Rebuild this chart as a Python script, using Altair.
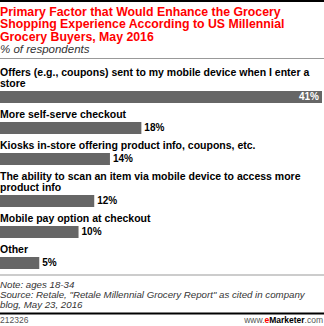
import altair as alt
import pandas as pd

# ---------------- data ----------------
categories = [
    "Offers (e.g., coupons) sent to my mobile device when I enter a\nstore",
    "More self-serve checkout",
    "Kiosks in-store offering product info, coupons, etc.",
    "The ability to scan an item via mobile device to access more\nproduct info",
    "Mobile pay option at checkout",
    "Other",
]
values = [41, 18, 14, 12, 10, 5]
value_labels = ["41%", "18%", "14%", "12%", "10%", "5%"]

title_lines = [
    "Primary Factor that Would Enhance the Grocery",
    "Shopping Experience According to US Millennial",
    "Grocery Buyers, May 2016",
]
subtitle_text = "% of respondents"
note_lines = [
    "Note: ages 18-34",
    'Source: Retale, "Retale Millennial Grocery Report" as cited in company',
    "blog, May 23, 2016",
]
chart_id = "212326"
brand_parts = ["www.", "e", "Marketer", ".com"]

# ---------------- layout / style ----------------
FONT = "Liberation Sans"
W, H = 322, 208
BAR = "#666666"
RED = "#ff0000"

df = pd.DataFrame({
    "idx": list(range(len(categories))),
    "label": categories,
    "value": values,
    "vlabel": value_labels,
})
one = pd.DataFrame({"k": [0]})

yscale = alt.Scale(domain=[0, H], reverse=True, nice=False, zero=False)
xscale = alt.Scale(domain=[0, max(values)], nice=False, zero=True)

base = (
    alt.Chart(df)
    .transform_calculate(lines="length(split(datum.label, '\\n'))")
    .transform_calculate(rowh="20 + 11 * datum.lines")
    .transform_window(cum="sum(rowh)", sort=[{"field": "idx"}])
    .transform_calculate(
        start="datum.cum - datum.rowh",
        btop="datum.cum - datum.rowh + 11 * datum.lines + 1",
    )
    .transform_calculate(bbot="datum.btop + 12", bmid="datum.btop + 6")
)

bars = base.mark_rect(color=BAR).encode(
    x=alt.X("value:Q", scale=xscale, axis=None),
    x2=alt.datum(0),
    y=alt.Y("btop:Q", scale=yscale, axis=None),
    y2="bbot:Q",
)

labels = base.mark_text(
    align="left", baseline="top", font=FONT, fontSize=10.5, fontWeight="bold",
    color="#000000", lineBreak="\n", lineHeight=11, dy=0,
).encode(
    x=alt.value(0),
    y=alt.Y("start:Q", scale=yscale, axis=None),
    text="label:N",
)

vals_out = base.transform_filter("datum.value < 30").mark_text(
    align="left", baseline="middle", font=FONT, fontSize=10, fontWeight="bold",
    color="#000000", dx=3,
).encode(
    x=alt.X("value:Q", scale=xscale, axis=None),
    y=alt.Y("bmid:Q", scale=yscale, axis=None),
    text="vlabel:N",
)

vals_in = base.transform_filter("datum.value >= 30").mark_text(
    align="right", baseline="middle", font=FONT, fontSize=10, fontWeight="bold",
    color="#ffffff", dx=-3,
).encode(
    x=alt.X("value:Q", scale=xscale, axis=None),
    y=alt.Y("bmid:Q", scale=yscale, axis=None),
    text="vlabel:N",
)

def rule(y, color, sw):
    return alt.Chart(one).mark_rule(color=color, strokeWidth=sw).encode(
        x=alt.value(0), x2=alt.value(324), y=alt.value(y)
    )

top_rule = rule(-67, "#000000", 2)
sub_rule = rule(-9.5, "#999999", 1)
foot_rule = rule(207, "#999999", 1)
bottom_rule = rule(245.5, "#000000", 2)

title = alt.Chart(one).mark_text(
    align="left", baseline="top", font=FONT, fontSize=12.3, fontWeight="bold",
    color=RED, lineHeight=12.4,
).encode(x=alt.value(0), y=alt.value(-62), text=alt.value(title_lines))

subtitle = alt.Chart(one).mark_text(
    align="left", baseline="top", font=FONT, fontSize=11.5, fontStyle="italic",
    color="#333333",
).encode(x=alt.value(0), y=alt.value(-24), text=alt.value(subtitle_text))

notes = alt.Chart(one).mark_text(
    align="left", baseline="top", font=FONT, fontSize=9.7, fontStyle="italic",
    color="#333333", lineHeight=10,
).encode(x=alt.value(0), y=alt.value(212), text=alt.value(note_lines))

cid = alt.Chart(one).mark_text(
    align="left", baseline="alphabetic", font=FONT, fontSize=8.5, color="#555555",
).encode(x=alt.value(0), y=alt.value(254.5), text=alt.value(chart_id))

def brand(txt, xr, color, weight):
    return alt.Chart(one).mark_text(
        align="right", baseline="alphabetic", font=FONT, fontSize=8.5,
        color=color, fontWeight=weight,
    ).encode(x=alt.value(xr), y=alt.value(254.5), text=alt.value(txt))

b1 = brand(brand_parts[3], 323, "#555555", "normal")
b2 = brand(brand_parts[2], 304.6, "#000000", "bold")
b3 = brand(brand_parts[1], 269.2, RED, "bold")
b4 = brand(brand_parts[0], 264.5, "#555555", "normal")

chart = alt.layer(
    top_rule, sub_rule, foot_rule, bottom_rule, title, subtitle,
    bars, labels, vals_out, vals_in, notes, cid, b1, b2, b3, b4,
).properties(
    width=W,
    height=H,
    autosize=alt.AutoSizeParams(type="none"),
    padding={"left": 0, "top": 68, "right": 2, "bottom": 50},
    background="#ffffff",
).configure_view(stroke=None)

chart.save("out.html", embed_options={"renderer": "svg", "actions": False})
